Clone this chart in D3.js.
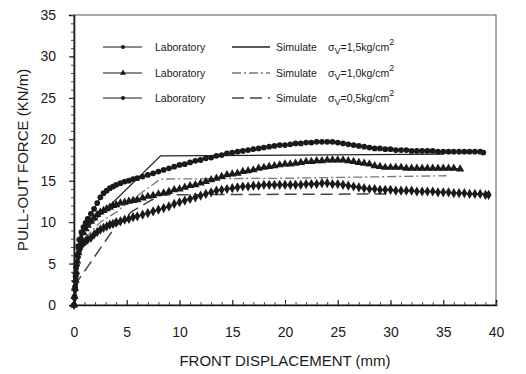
<!DOCTYPE html>
<html><head><meta charset="utf-8">
<script src="https://cdn.jsdelivr.net/npm/d3@7"></script>
<style>
html,body{margin:0;padding:0;background:#fff;}
svg{display:block;font-family:"Liberation Sans",Arial,sans-serif;}
</style></head>
<body>
<svg id="c" width="526" height="374"></svg>
<script>
// ---- data ----
const xTicks = [0,5,10,15,20,25,30,35,40];
const yTicks = [0,5,10,15,20,25,30,35];

const lab15X = [0,0.05,0.1,0.15,0.2,0.3,0.4,0.5,0.7,0.9,1.1,1.3,1.6,1.9,2.2,2.5,2.8,3.1,3.4,3.7,4.0,4.4,4.8,5.2,5.6,6.0,6.5,7.0,7.5,8.0,8.5,9.0,9.5,10,10.5,11,11.5,12,12.5,13,13.5,14,14.5,15,15.5,16,16.5,17,17.5,18,18.5,19,19.5,20,20.5,21,21.5,22,22.5,23,23.5,24,24.5,25,25.5,26,26.5,27,27.5,28,28.5,29,29.5,30,30.5,31,31.5,32,32.5,33,33.5,34,34.5,35,35.5,36,36.5,37,37.5,38,38.5,38.8];
const lab15Y = [0,1,2.2,3.4,4.5,6,7.1,7.9,8.8,9.4,9.9,10.4,11.0,11.6,12.3,13.0,13.5,13.8,14.1,14.3,14.5,14.7,14.9,15.0,15.2,15.3,15.5,15.7,15.9,16.1,16.3,16.5,16.7,16.9,17.0,17.2,17.4,17.5,17.7,17.8,18.0,18.1,18.3,18.4,18.5,18.6,18.7,18.8,18.9,19.0,19.1,19.2,19.3,19.3,19.4,19.5,19.5,19.6,19.6,19.7,19.7,19.7,19.7,19.6,19.5,19.4,19.3,19.2,19.1,19.0,18.9,18.9,18.8,18.8,18.7,18.7,18.7,18.6,18.6,18.6,18.6,18.6,18.5,18.5,18.5,18.5,18.5,18.5,18.5,18.5,18.5,18.4];

const lab10X = [0,0.05,0.1,0.15,0.2,0.3,0.4,0.5,0.7,0.9,1.1,1.3,1.6,1.9,2.2,2.5,2.8,3.1,3.4,3.7,4.0,4.4,4.8,5.2,5.6,6.0,6.5,7.0,7.5,8.0,8.5,9.0,9.5,10,10.5,11,11.5,12,12.5,13,13.5,14,14.5,15,15.5,16,16.5,17,17.5,18,18.5,19,19.5,20,20.5,21,21.5,22,22.5,23,23.5,24,24.5,25,25.5,26,26.5,27,27.5,28,28.5,29,29.5,30,30.5,31,31.5,32,32.5,33,33.5,34,34.5,35,35.5,36,36.6];
const lab10Y = [0,1,2,3,4,5.3,6.3,7.0,8.0,8.7,9.2,9.6,10.1,10.5,10.9,11.2,11.4,11.6,11.8,12.0,12.1,12.3,12.4,12.5,12.6,12.7,12.9,13.1,13.2,13.4,13.5,13.7,13.9,14.0,14.2,14.4,14.5,14.7,14.9,15.1,15.3,15.5,15.7,15.8,15.9,16.1,16.2,16.3,16.5,16.6,16.7,16.8,16.9,17.0,17.0,17.1,17.2,17.3,17.3,17.4,17.4,17.5,17.5,17.5,17.5,17.4,17.3,17.2,17.1,17.0,16.8,16.7,16.6,16.6,16.6,16.6,16.5,16.5,16.5,16.5,16.5,16.5,16.5,16.5,16.5,16.5,16.4];

const lab05X = [0,0.05,0.1,0.15,0.2,0.3,0.4,0.5,0.7,0.9,1.1,1.3,1.6,1.9,2.2,2.5,2.8,3.1,3.4,3.7,4.0,4.4,4.8,5.2,5.6,6.0,6.5,7.0,7.5,8.0,8.5,9.0,9.5,10,10.5,11,11.5,12,12.5,13,13.5,14,14.5,15,15.5,16,16.5,17,17.5,18,18.5,19,19.5,20,20.5,21,21.5,22,22.5,23,23.5,24,24.5,25,25.5,26,26.5,27,27.5,28,28.5,29,29.5,30,30.5,31,31.5,32,32.5,33,33.5,34,34.5,35,35.5,36,36.5,37,37.5,38,38.5,39,39.3];
const lab05Y = [0,0.8,1.8,2.8,3.6,4.8,5.8,6.6,7.2,7.5,7.7,7.9,8.1,8.5,8.8,9.1,9.3,9.5,9.7,9.8,10.0,10.1,10.3,10.4,10.6,10.7,10.9,11.1,11.3,11.5,11.7,11.9,12.2,12.4,12.6,12.8,13.0,13.2,13.4,13.6,13.8,13.9,14.0,14.1,14.2,14.3,14.3,14.4,14.4,14.5,14.5,14.5,14.5,14.5,14.5,14.5,14.5,14.6,14.6,14.6,14.7,14.7,14.6,14.6,14.5,14.4,14.3,14.2,14.1,14.0,14.0,13.9,13.9,13.9,13.8,13.8,13.8,13.8,13.7,13.7,13.7,13.7,13.6,13.6,13.6,13.5,13.5,13.5,13.4,13.4,13.4,13.3,13.3];

const sim15X = [0,0.2,0.6,8.2,35];
const sim15Y = [0,4,8.5,18.0,18.2];
const sim10X = [0,0.3,1.0,2.5,4.0,5.5,7.0,8.2,20,35.3];
const sim10Y = [0,4.5,8.0,10.0,11.2,12.7,14.1,15.2,15.3,15.6];
const sim05X = [0,0.4,1.5,2.8,3.9,5.5,8.2,30];
const sim05Y = [0,3,5,7.4,9.4,11.3,13.3,13.4];

const legendLab = ["Laboratory","Laboratory","Laboratory"];
const legendSim = ["Simulate","Simulate","Simulate"];
const legendStress = ["1,5","1,0","0,5"];

// ---- drawing ----
const svg = d3.select("#c");
const W=526,H=374;
const m = {l:74, r:30, t:15, b:69};
const x = d3.scaleLinear().domain([0,40]).range([m.l, W-m.r]);
const y = d3.scaleLinear().domain([0,35]).range([H-m.b, m.t]);
const ink = "#1a1a1a";

// frame
svg.append("rect").attr("x",x(0)).attr("y",y(35)).attr("width",x(40)-x(0)).attr("height",y(0)-y(35))
  .attr("fill","none").attr("stroke","#555").attr("stroke-width",1);

// y axis
const yAx = svg.append("g").attr("transform",`translate(${x(0)},0)`)
  .call(d3.axisLeft(y).tickValues(yTicks).tickSize(5).tickPadding(13).tickFormat(d3.format("d")));
yAx.select(".domain").attr("stroke",ink).attr("stroke-width",1.6);
yAx.selectAll("text").attr("font-size",14).attr("fill",ink);
svg.append("g").attr("transform",`translate(${x(0)},0)`)
  .call(d3.axisLeft(y).tickValues(d3.range(0,36,1)).tickSize(3).tickFormat(""))
  .call(g=>g.select(".domain").remove()).selectAll("line").attr("stroke","#444");

// x axis
const xAx = svg.append("g").attr("transform",`translate(0,${y(0)})`)
  .call(d3.axisBottom(x).tickValues(xTicks).tickSize(-5).tickPadding(22).tickFormat(d3.format("d")));
xAx.select(".domain").attr("stroke",ink).attr("stroke-width",1.6);
xAx.selectAll("text").attr("font-size",14).attr("fill",ink);
svg.append("g").attr("transform",`translate(0,${y(0)})`)
  .call(d3.axisBottom(x).tickValues(d3.range(0,41,1)).tickSize(-3).tickFormat(""))
  .call(g=>g.select(".domain").remove()).selectAll("line").attr("stroke","#444");

// axis titles
svg.append("text").attr("x",(x(0)+x(40))/2).attr("y",366).attr("text-anchor","middle")
  .attr("font-size",15).attr("fill",ink).text("FRONT DISPLACEMENT (mm)");
svg.append("text").attr("transform","translate(28,160) rotate(-90)").attr("text-anchor","middle")
  .attr("font-size",15).attr("fill",ink).text("PULL-OUT FORCE (KN/m)");

const line = d3.line().x(d=>x(d[0])).y(d=>y(d[1]));
const zip = (a,b)=>a.map((v,i)=>[v,b[i]]);

// simulations
const sims = [
  {d:zip(sim15X,sim15Y), dash:null, color:"#222", w:1.3},
  {d:zip(sim10X,sim10Y), dash:"9,3,2,3", color:"#777", w:1.3},
  {d:zip(sim05X,sim05Y), dash:"12,6", color:"#444", w:1.5},
];
sims.forEach(s=>{
  svg.append("path").attr("d",line(s.d)).attr("fill","none").attr("stroke",s.color)
    .attr("stroke-width",s.w).attr("stroke-dasharray",s.dash);
});

// laboratory
const circ = d3.symbol().type(d3.symbolCircle).size(26);
const tri = d3.symbol().type(d3.symbolTriangle).size(30);
const labs = [
  {d:zip(lab15X,lab15Y), sym:circ},
  {d:zip(lab10X,lab10Y), sym:tri},
  {d:zip(lab05X,lab05Y), sym:d3.symbol().type(d3.symbolDiamond).size(30)},
];
labs.forEach(s=>{
  svg.append("path").attr("d",line(s.d)).attr("fill","none").attr("stroke",ink).attr("stroke-width",1.2);
  svg.append("g").selectAll("path").data(s.d).join("path")
    .attr("transform",d=>`translate(${x(d[0])},${y(d[1])})`).attr("d",s.sym()).attr("fill",ink);
});

// legend
const rows=[47,73,98];
const lsym = [d3.symbol().type(d3.symbolCircle).size(14), d3.symbol().type(d3.symbolTriangle).size(16), d3.symbol().type(d3.symbolCircle).size(14)];
const lg = svg.append("g").attr("font-size",10.5).attr("fill",ink);
rows.forEach((ry,i)=>{
  lg.append("line").attr("x1",103).attr("x2",142).attr("y1",ry).attr("y2",ry).attr("stroke",ink).attr("stroke-width",1);
  lg.append("path").attr("transform",`translate(123,${ry})`).attr("d",lsym[i]()).attr("fill",ink);
  lg.append("text").attr("x",155).attr("y",ry+4).text(legendLab[i]);
  lg.append("line").attr("x1",232).attr("x2",270).attr("y1",ry).attr("y2",ry).attr("stroke",sims[i].color)
    .attr("stroke-width",sims[i].w).attr("stroke-dasharray",sims[i].dash);
  lg.append("text").attr("x",276).attr("y",ry+4).text(legendSim[i]);
  const t = lg.append("text").attr("x",328).attr("y",ry+4);
  t.append("tspan").text("σ");
  t.append("tspan").attr("font-size",9).attr("dy",3).text("V");
  t.append("tspan").attr("dy",-3).text("="+legendStress[i]+"kg/cm");
  t.append("tspan").attr("font-size",9).attr("dy",-6).text("2");
});
</script>
</body></html>
